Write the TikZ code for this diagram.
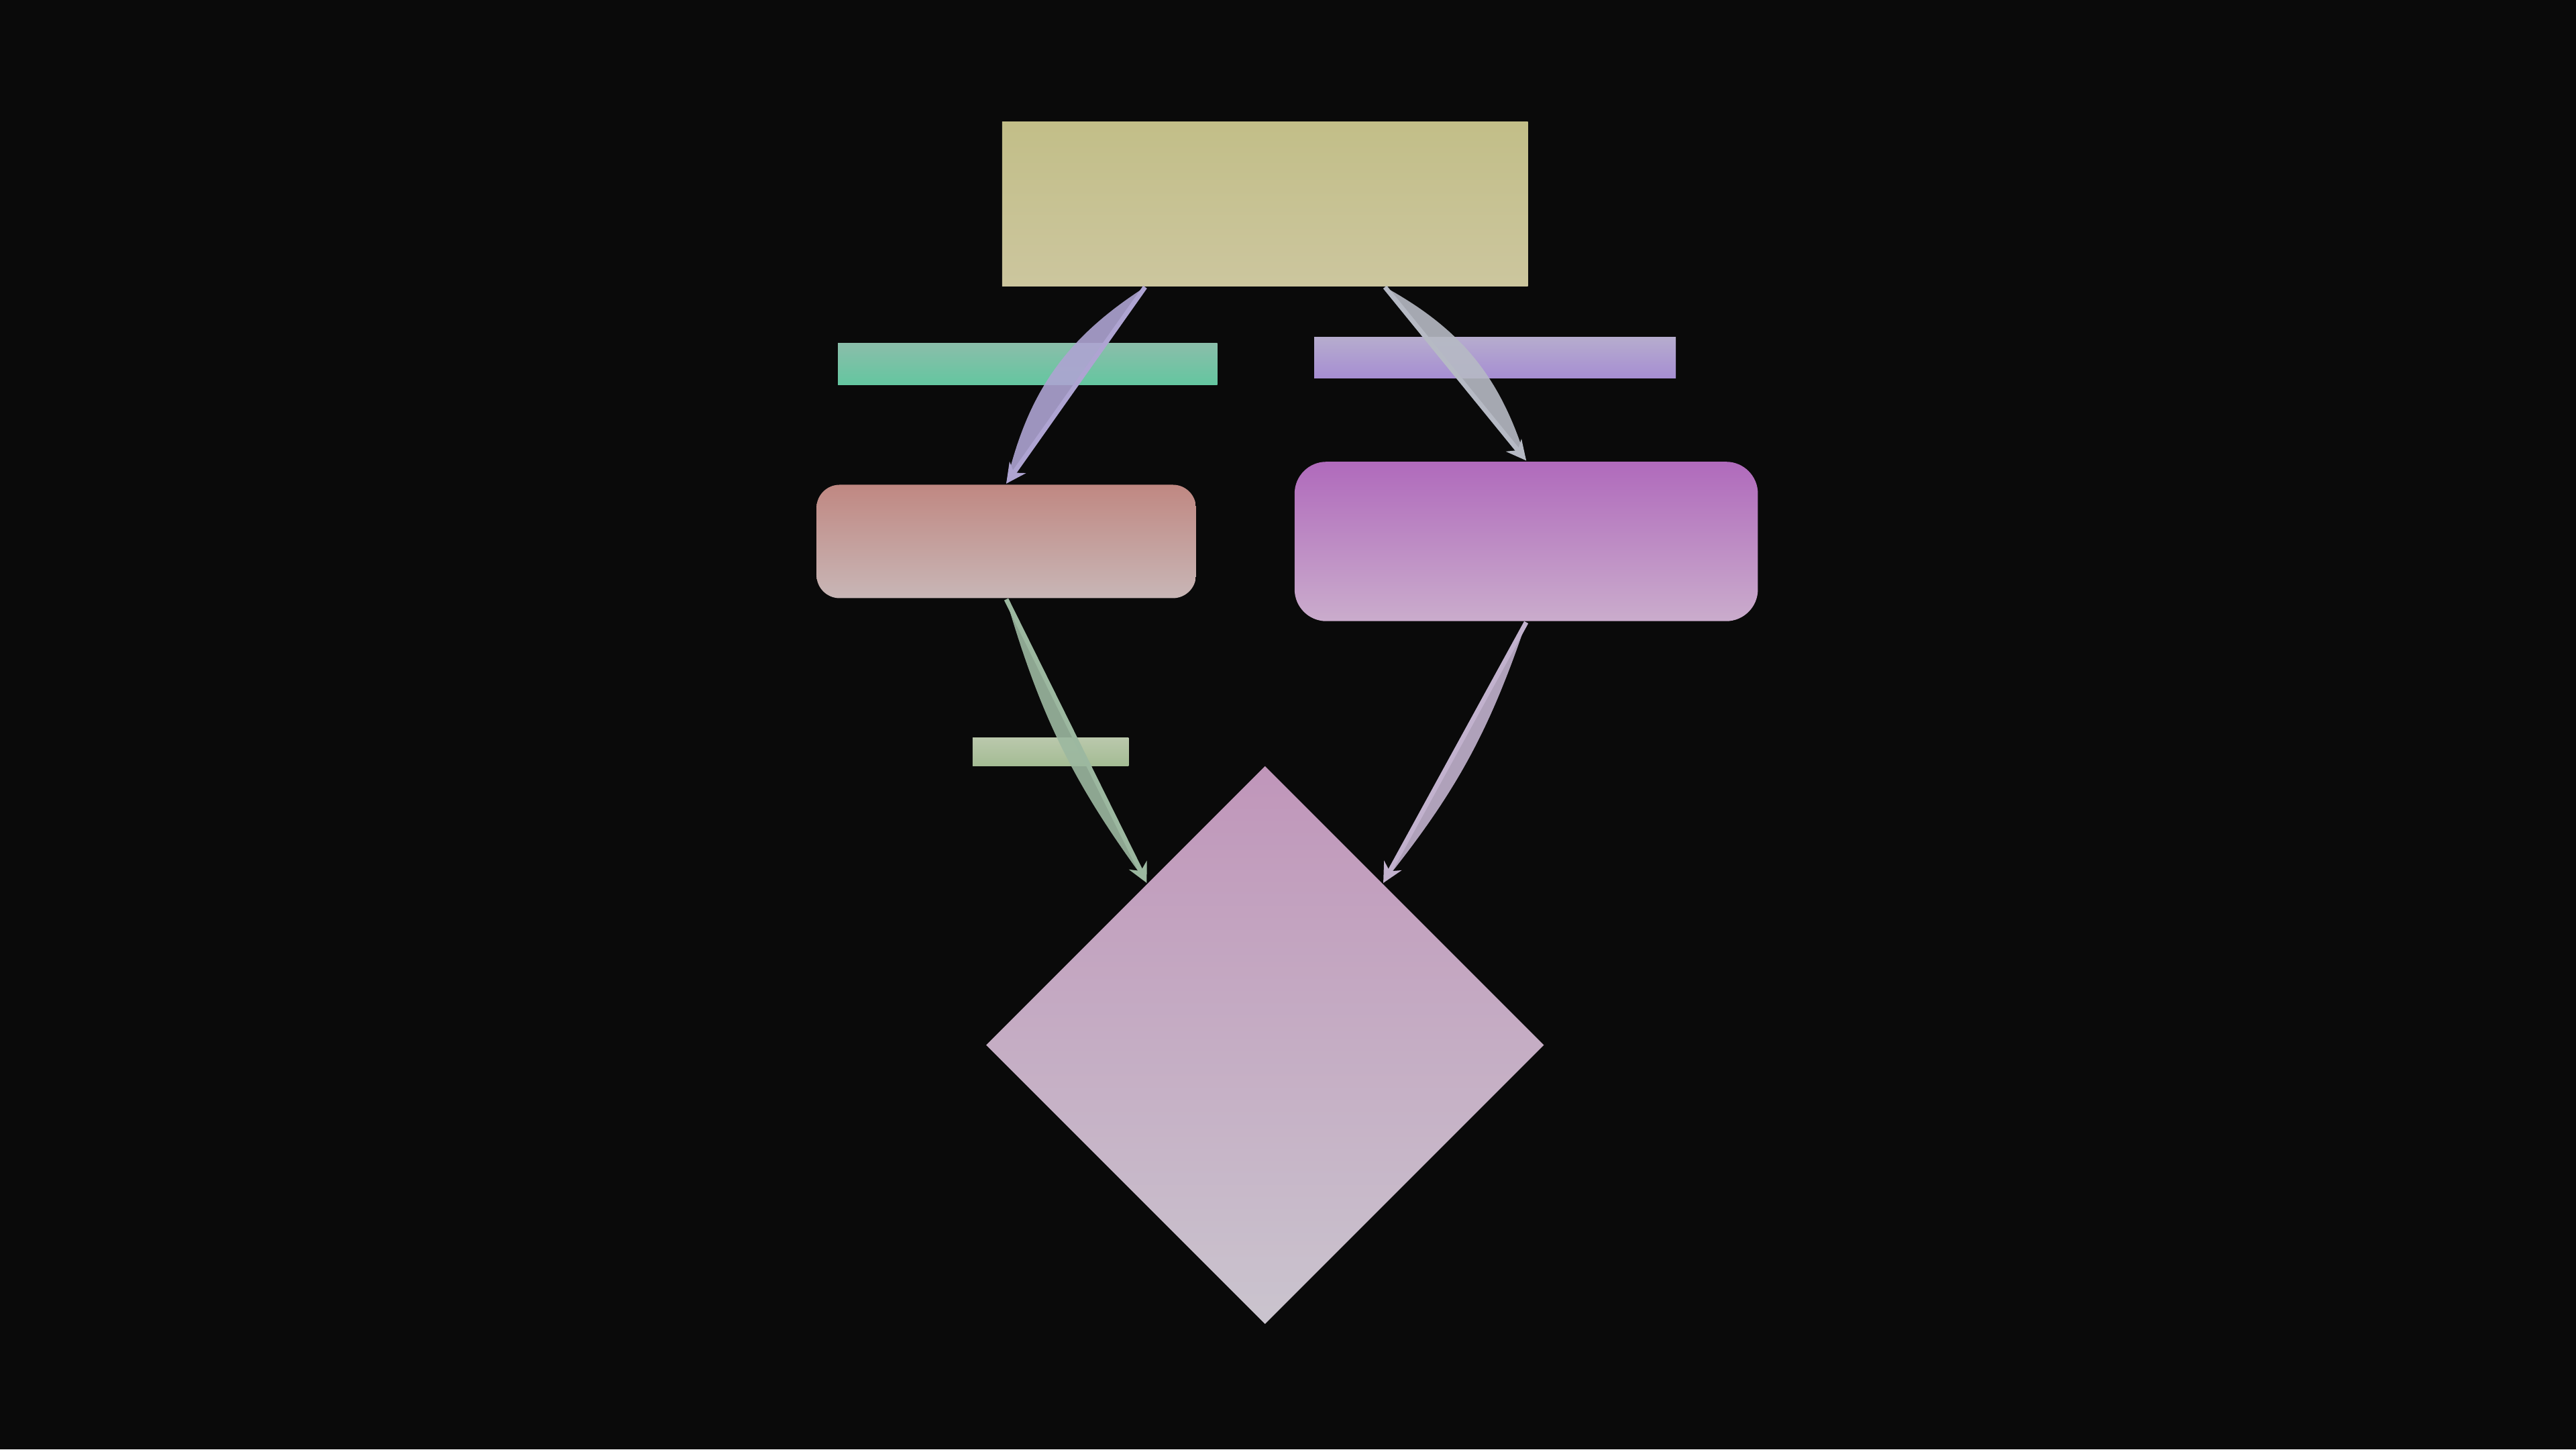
\documentclass[tikz,border=0pt]{standalone}
\usetikzlibrary{shapes.geometric}
\usetikzlibrary{arrows.meta}

\definecolor{bgcol}{HTML}{0A0A0A}
\definecolor{arrA}{HTML}{AEA4D2}
\definecolor{arrB}{HTML}{B6BAC4}
\definecolor{arrC}{HTML}{9CB8A0}
\definecolor{arrD}{HTML}{C2B2CE}

\tikzset{
	box/.style={rectangle, inner sep=0pt, draw=none},
	rbox/.style={box, rounded corners=#1},
	lens/.style={fill=#1, fill opacity=0.9, draw=none},
	flow/.style={draw=#1, line width=0.8pt, -{Stealth[length=0.12cm, width=0.12cm]}}
}

\begin{document}
\begin{tikzpicture}
	
	\fill[bgcol] (0,0) rectangle (15.68,8.82);
	\useasboundingbox (0,0) rectangle (15.68,8.82);
	
	% boxes
	\node[box, minimum width=3.2cm, minimum height=1.0cm, top color={rgb,255:red,194;green,190;blue,136}, bottom color={rgb,255:red,204;green,198;blue,158}] (start) at (7.70,7.58) {};
	\node[rbox=4pt, minimum width=2.31cm, minimum height=0.69cm, top color={rgb,255:red,192;green,136;blue,130}, bottom color={rgb,255:red,200;green,182;blue,182}] (left) at (6.125,5.525) {};
	\node[rbox=5.5pt, minimum width=2.82cm, minimum height=0.97cm, top color={rgb,255:red,176;green,106;blue,188}, bottom color={rgb,255:red,202;green,172;blue,204}] (right) at (9.29,5.525) {};
	\node[diamond, aspect=1, inner sep=0pt, minimum size=3.4cm, top color={rgb,255:red,192;green,150;blue,186}, bottom color={rgb,255:red,202;green,196;blue,206}] (dec) at (7.70,2.46) {};
	
	% label bars
	\node[box, minimum width=2.31cm, minimum height=0.25cm, top color={rgb,255:red,138;green,190;blue,170}, bottom color={rgb,255:red,100;green,198;blue,160}] (lblA) at (6.255,6.605) {};
	\node[box, minimum width=2.2cm, minimum height=0.25cm, top color={rgb,255:red,182;green,172;blue,206}, bottom color={rgb,255:red,166;green,142;blue,210}] (lblB) at (9.10,6.645) {};
	\node[box, minimum width=0.95cm, minimum height=0.17cm, top color={rgb,255:red,186;green,200;blue,172}, bottom color={rgb,255:red,164;green,188;blue,148}] (lblC) at (6.395,4.245) {};
	
	\coordinate (outL) at ([xshift=-0.73cm]start.south);
	\coordinate (outR) at ([xshift=0.73cm]start.south);
	\coordinate (inL) at ([xshift=-0.72cm, yshift=-0.72cm]dec.north);
	\coordinate (inR) at ([xshift=0.72cm, yshift=-0.72cm]dec.north);
	
	% connectors
	\fill[lens=arrA] (outL) to[bend right=22] (left.north) -- cycle;
	\draw[flow=arrA] (outL) -- (left.north);
	\fill[lens=arrB] (outR) to[bend left=22] (right.north) -- cycle;
	\draw[flow=arrB] (outR) -- (right.north);
	\fill[lens=arrC] (left.south) to[bend right=10] (inL) -- cycle;
	\draw[flow=arrC] (left.south) -- (inL);
	\fill[lens=arrD] (right.south) to[bend left=10] (inR) -- cycle;
	\draw[flow=arrD] (right.south) -- (inR);
	
\end{tikzpicture}
\end{document}
